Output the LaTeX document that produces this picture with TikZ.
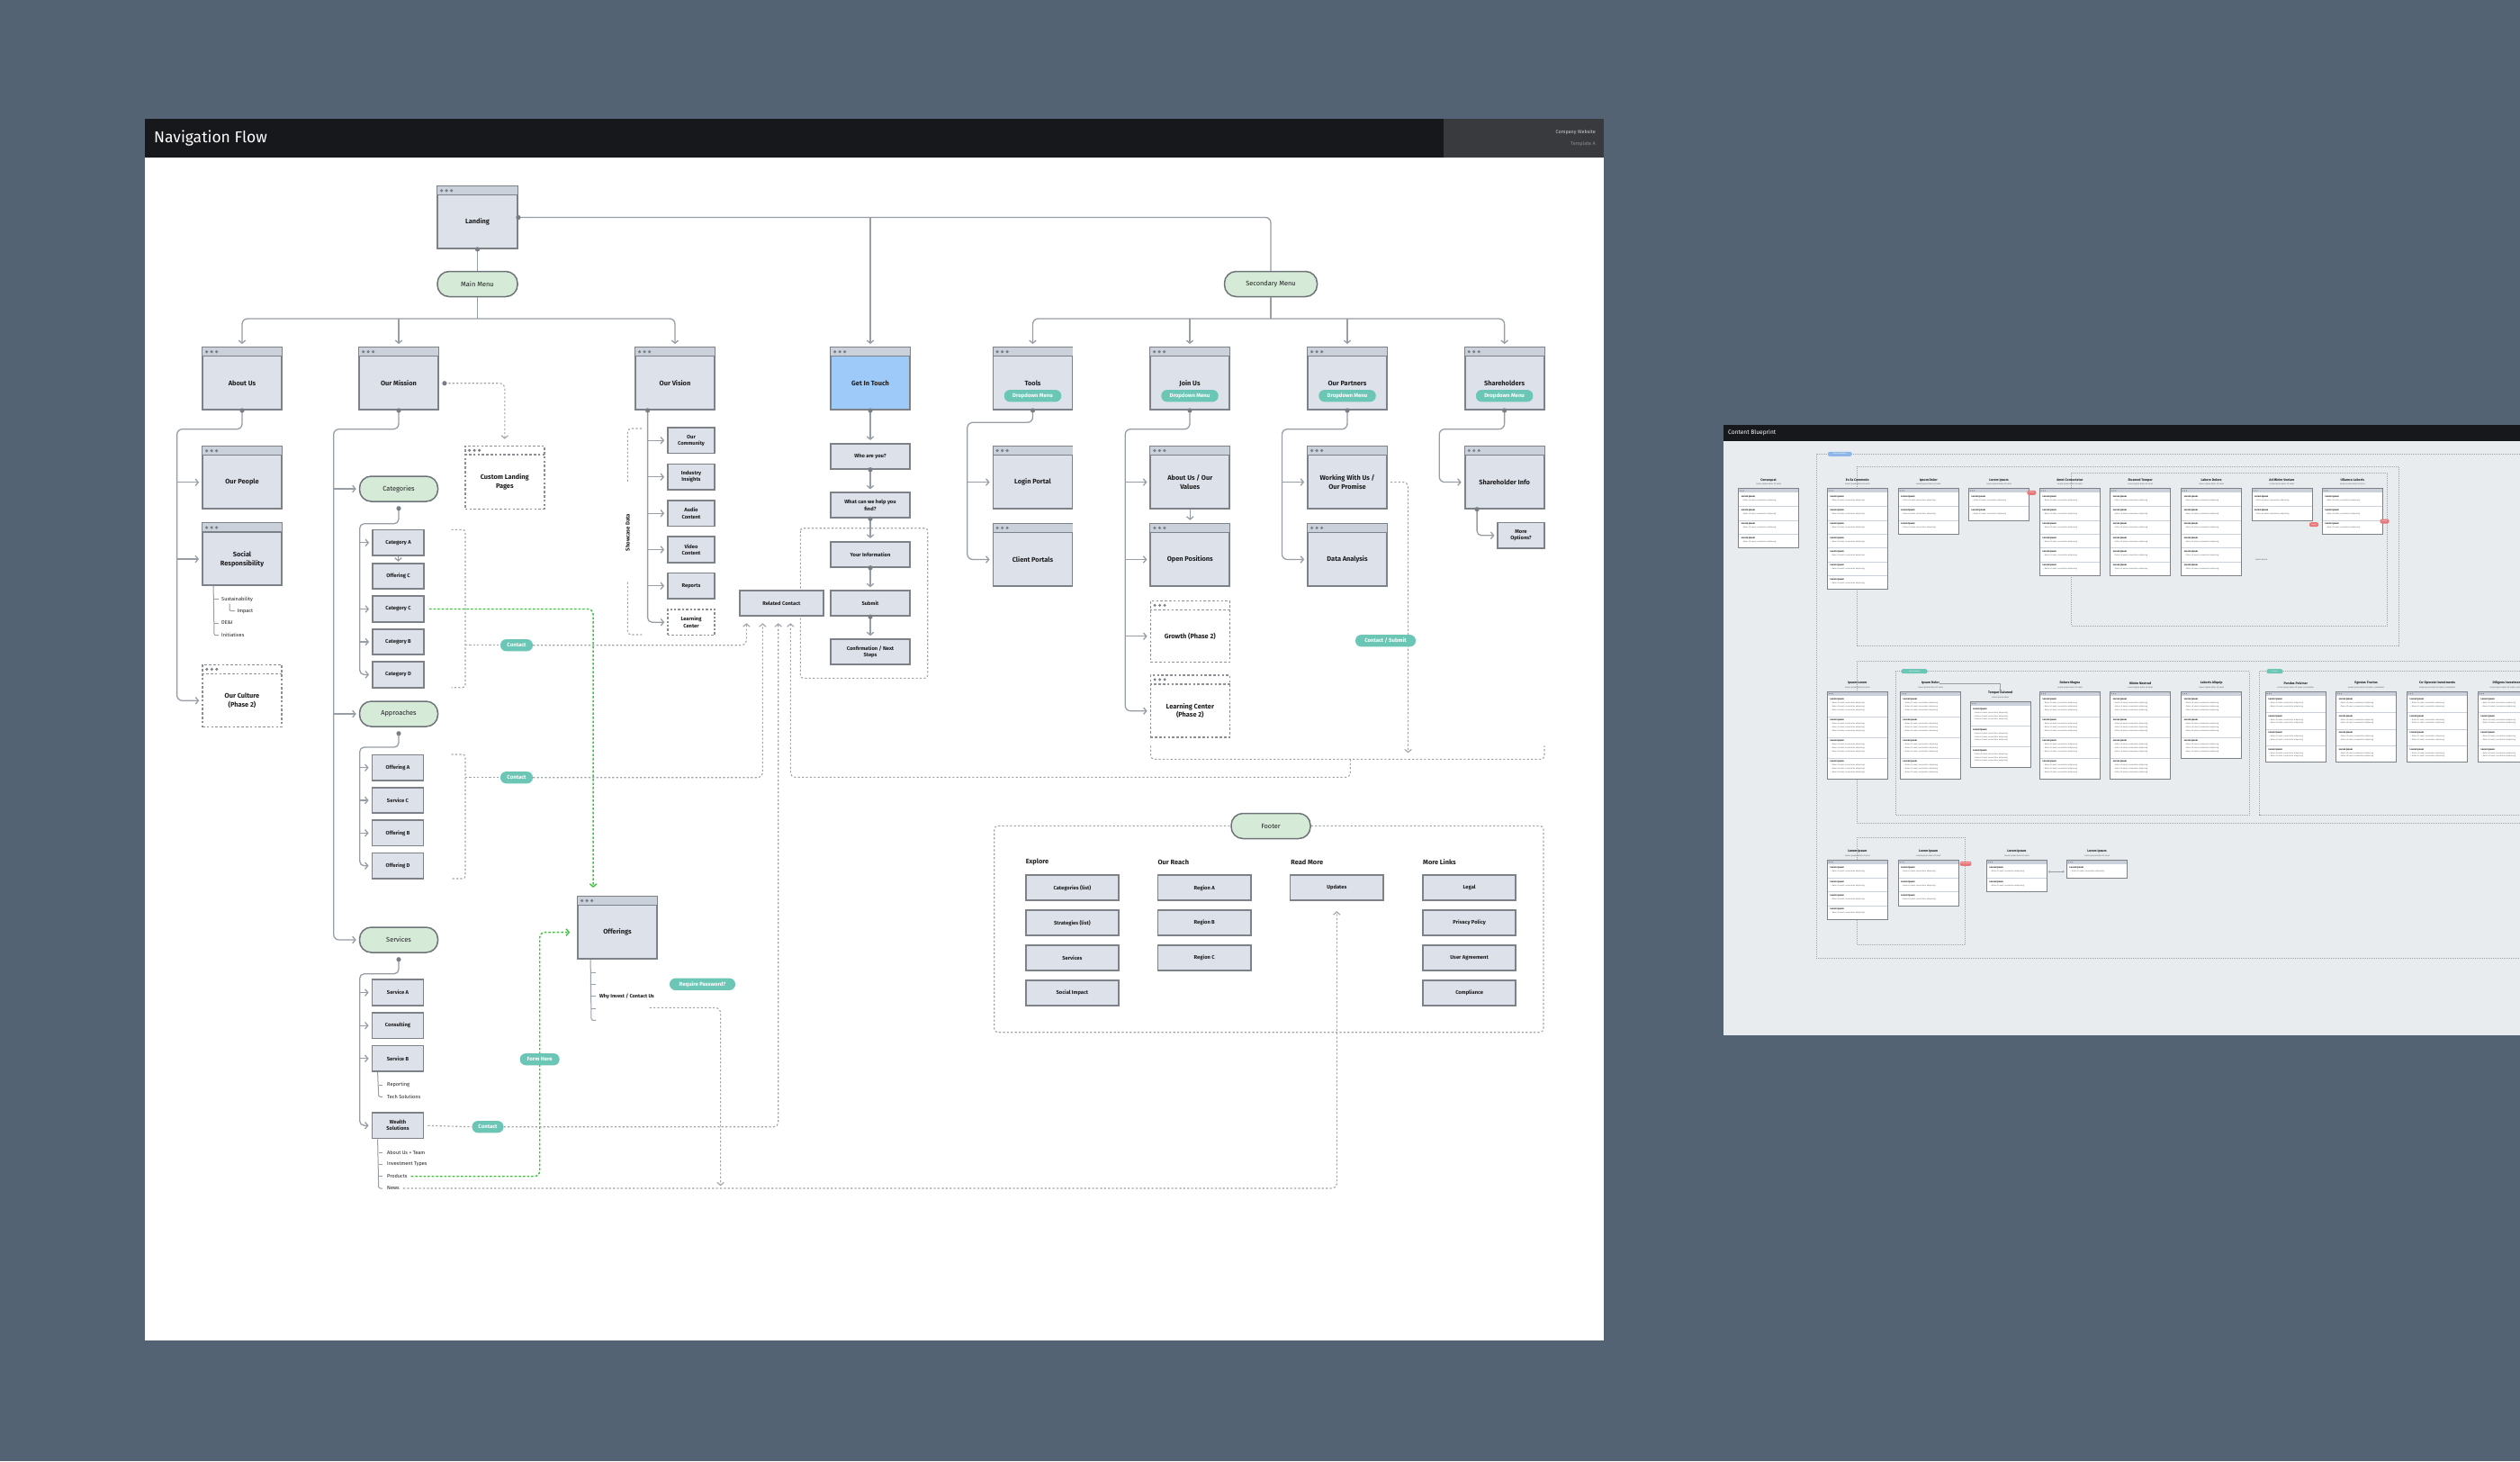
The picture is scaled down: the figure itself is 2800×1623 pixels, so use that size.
\documentclass[tikz,border=0pt]{standalone}
\usepackage{fontspec}
\setmainfont{Fira Sans}
\usetikzlibrary{arrows.meta}
\definecolor{bgc}{RGB}{83,99,115}
\definecolor{hdrc}{RGB}{23,24,27}
\definecolor{hdr2}{RGB}{57,58,62}
\definecolor{boxf}{RGB}{221,226,234}
\definecolor{barf}{RGB}{202,209,218}
\definecolor{boxc}{RGB}{125,130,136}
\definecolor{dboxc}{RGB}{140,144,150}
\definecolor{dotc}{RGB}{120,126,134}
\definecolor{pillf}{RGB}{213,235,215}
\definecolor{pillc}{RGB}{110,115,120}
\definecolor{bluef}{RGB}{157,202,248}
\definecolor{tealf}{RGB}{108,198,181}
\definecolor{connc}{RGB}{152,158,166}
\definecolor{dashc}{RGB}{160,164,170}
\definecolor{greenc}{RGB}{58,196,58}
\definecolor{txtc}{RGB}{30,30,32}
\definecolor{bpf}{RGB}{233,236,239}
\definecolor{redf}{RGB}{232,120,120}
\definecolor{bluep}{RGB}{140,182,232}
\definecolor{bptxt}{RGB}{80,84,90}
\tikzset{
  win/.style={draw=boxc, fill=boxf, line width=1.8pt, inner sep=0pt},
  dwin/.style={draw=dboxc, fill=white, line width=1.4pt, dash pattern=on 2.6pt off 2.2pt, inner sep=0pt},
  wlbl/.style={inner sep=0pt, align=center, text=txtc, font=\fontsize{7.4}{9.6}\selectfont\bfseries},
  sbox/.style={draw=boxc, fill=boxf, line width=1.8pt, inner sep=1pt, minimum width=57pt, minimum height=28.5pt, align=center, text=txtc, font=\fontsize{5.8}{7.2}\selectfont\bfseries},
  dsbox/.style={sbox, draw=dboxc, fill=white, line width=1.4pt, dash pattern=on 2.4pt off 2pt},
  gpill/.style={draw=pillc, fill=pillf, line width=1.5pt, rounded corners=13pt, minimum height=28pt, inner sep=1pt, text=txtc, font=\fontsize{7.4}{9}\selectfont},
  tpill/.style={fill=tealf, text=white, rounded corners=6.5pt, minimum height=13.3pt, inner sep=1.5pt, font=\fontsize{6}{7}\selectfont\bfseries},
  conn/.style={draw=connc, line width=1.3pt},
  thinconn/.style={draw=connc, line width=1pt},
  arrtip/.style={-{Straight Barb[length=3.2pt,width=7.5pt]}},
  arr/.style={conn, arrtip, shorten >=3pt},
  dsh/.style={draw=dashc, line width=1.1pt, dash pattern=on 2.2pt off 2.2pt},
  gdash/.style={draw=greenc, line width=1.4pt, dash pattern=on 2.6pt off 2pt},
  subt/.style={anchor=west, inner sep=0pt, text=txtc, font=\fontsize{5.6}{7}\selectfont},
  fhead/.style={anchor=west, inner sep=0pt, text=txtc, font=\fontsize{7.4}{9}\selectfont\bfseries},
  fbox/.style={sbox, minimum width=103.5pt, minimum height=28pt},
  bptitle/.style={inner sep=0pt, text=txtc, font=\fontsize{3.6}{4}\selectfont\bfseries},
  bpsub/.style={inner sep=0pt, text=bptxt, font=\fontsize{2.2}{2.6}\selectfont},
  bprh/.style={anchor=west, inner sep=0pt, text=txtc, font=\fontsize{2.6}{3}\selectfont\bfseries},
  bpb/.style={anchor=west, inner sep=0pt, text=bptxt, font=\fontsize{2.1}{2.5}\selectfont},
  bpedge/.style={draw=boxc, line width=0.6pt},
  bprow/.style={draw=barf, line width=0.5pt},
  bpdash/.style={draw=dashc, line width=0.5pt, dash pattern=on 1pt off 1pt},
  bptag/.style={inner sep=0.6pt, rounded corners=2pt, minimum height=5pt, text=white, font=\fontsize{2}{2.4}\selectfont}
}
\newcommand\jdot[1]{\fill[dotc] (#1) circle (2.6pt);}
\newcommand\winbox[7][]{%
  \node[win, minimum width=#5pt, minimum height=#6pt, #1] (#2) at (#3,#4) {};
  \fill[barf] ([shift={(0.9pt,-0.9pt)}]#2.north west) rectangle ([shift={(-0.9pt,-10.5pt)}]#2.north east);
  \draw[boxc, line width=1.2pt] ([yshift=-10.5pt]#2.north west) -- ([yshift=-10.5pt]#2.north east);
  \foreach \dx in {5.5,11,16.5}{\fill[dotc] ([shift={(\dx pt,-5.6pt)}]#2.north west) circle (1.7pt);}
  \coordinate (#2-w) at ([yshift=-5.25pt]#2.west);
  \coordinate (#2-e) at ([yshift=-5.25pt]#2.east);
  \node[wlbl] (#2-t) at ([yshift=-5.25pt]#2.center) {#7};
}
\newcommand\dwinbox[6]{%
  \node[dwin, minimum width=#4pt, minimum height=#5pt] (#1) at (#2,#3) {};
  \draw[dboxc, line width=1.4pt, dash pattern=on 2.6pt off 2.2pt] ([yshift=-10.5pt]#1.north west) -- ([yshift=-10.5pt]#1.north east);
  \foreach \dx in {5.5,11,16.5}{\fill[dotc] ([shift={(\dx pt,-5.6pt)}]#1.north west) circle (1.7pt);}
  \coordinate (#1-w) at ([yshift=-5.25pt]#1.west);
  \coordinate (#1-e) at ([yshift=-5.25pt]#1.east);
  \node[wlbl] (#1-t) at ([yshift=-5.25pt]#1.center) {#6};
}
% name, left x, top y, rows, row height, bullets, title, subtitle
\newcommand\bpcard[8]{%
  \node[bptitle] (#1-t) at ({#2+33.5},{#3-9.4}) {#7};
  \node[bpsub] (#1-s) at ({#2+33.5},{#3-4.4}) {#8};
  \fill[white] (#2,#3) rectangle ({#2+67},{#3+4.7+#4*#5});
  \fill[barf] (#2,#3) rectangle ({#2+67},{#3+4.7});
  \foreach \dx in {2,4,6}{\fill[dotc] ({#2+\dx},{#3+2.35}) circle (0.6pt);}
  \foreach \rr in {1,...,#4}{%
    \pgfmathsetmacro\ry{#3+4.7+(\rr-1)*#5}
    \draw[bprow] (#2,{\ry+#5}) -- ({#2+67},{\ry+#5});
    \node[bprh] (#1-h\rr) at ({#2+3},{\ry+4.2}) {Lorem Ipsum};
    \foreach \bb in {1,...,#6}{\node[bpb] (#1-b\rr-\bb) at ({#2+4},{\ry+4.6+\bb*3.6}) {• Dolor sit amet, consectetur adipiscing};}
  }
  \draw[bpedge] (#2,#3) rectangle ({#2+67},{#3+4.7+#4*#5});
}
\begin{document}
\begin{tikzpicture}[x=1pt,y=-1pt]
\fill[bgc] (0,0) rectangle (2800,1623);
\useasboundingbox (0,0) rectangle (2800,1623);
% ---------- main panel ----------
\fill[white] (161,132) rectangle (1782,1489);
\fill[hdrc] (161,132) rectangle (1782,175);
\fill[hdr2] (1604,132) rectangle (1782,175);
\node[anchor=west, inner sep=0pt, text=white, font=\fontsize{17.5}{20}\selectfont] (title) at (171,153.5) {Navigation Flow};
\node[anchor=east, inner sep=0pt, text=black!20, font=\fontsize{5.5}{6.5}\selectfont] (cw) at (1773,147) {Company Website};
\node[anchor=east, inner sep=0pt, text=black!45, font=\fontsize{5.5}{6.5}\selectfont] (ta) at (1773,160.5) {Template A};

% ---------- background dashed groupings ----------
\draw[dsh, rounded corners=3pt] (889.3,586.7) rectangle (1030.7,753.3);
\draw[dsh, rounded corners=3pt] (501.5,588.3) -- (517,588.3) -- (517,763.7) -- (501.5,763.7);
\draw[dsh, rounded corners=3pt] (501.5,838) -- (517,838) -- (517,976) -- (501.5,976);
\draw[dsh, rounded corners=4pt] (1278.6,828.3) -- (1278.6,843.3) -- (1716,843.3) -- (1716,828.3);
\draw[dsh, rounded corners=4pt] (1104.7,917.3) rectangle (1715,1146.7);
\draw[dsh, rounded corners=4pt] (713,476) -- (697.3,476) -- (697.3,535);
\draw[dsh, rounded corners=4pt] (697.3,646.7) -- (697.3,705) -- (713,705);
\node[rotate=90, inner sep=0pt, text=txtc, font=\fontsize{6}{7}\selectfont\bfseries] (showcase) at (697.3,591.7) {Showcase Data};

% ---------- window boxes ----------
\winbox{landing}{530.5}{241.5}{89}{69}{Landing}
\winbox{aboutus}{269}{420.5}{88}{69}{About Us}
\winbox{mission}{443}{420.5}{88}{69}{Our Mission}
\winbox{vision}{750}{420.5}{88}{69}{Our Vision}
\winbox[fill=bluef]{touch}{967}{420.5}{88}{69}{Get In Touch}
\winbox{tools}{1147.5}{420.5}{88}{69}{Tools}
\winbox{joinus}{1322}{420.5}{88}{69}{Join Us}
\winbox{partners}{1497}{420.5}{88}{69}{Our Partners}
\winbox{sharehold}{1671.6}{420.5}{88}{69}{Shareholders}
\winbox{people}{269}{530.5}{88}{69}{Our People}
\winbox{social}{269}{615.8}{88}{69}{Social\\Responsibility}
\dwinbox{culture}{269}{773}{88}{69}{Our Culture\\(Phase 2)}
\dwinbox{custom}{560.8}{530.3}{88}{70}{Custom Landing\\Pages}
\winbox{login}{1147.5}{530.3}{88}{69}{Login Portal}
\winbox{client}{1147.5}{616.2}{88}{69}{Client Portals}
\winbox{values}{1322.3}{530.3}{88}{69}{About Us / Our\\Values}
\winbox{openpos}{1322.3}{616.2}{88}{69}{Open Positions}
\dwinbox{growth}{1322.3}{701.5}{88}{68}{Growth (Phase 2)}
\dwinbox{learntwo}{1322.3}{784.5}{88}{69}{Learning Center\\(Phase 2)}
\winbox{working}{1497}{530.3}{88}{69}{Working With Us /\\Our Promise}
\winbox{data}{1497}{616.2}{88}{69}{Data Analysis}
\winbox{shinfo}{1671.6}{530.3}{88}{69}{Shareholder Info}
\winbox{offerings}{686}{1030.3}{88}{69}{Offerings}

\node[tpill, minimum width=63.5pt] (dd1) at (1147.5,439.7) {Dropdown Menu};
\node[tpill, minimum width=63.5pt] (dd2) at (1322,439.7) {Dropdown Menu};
\node[tpill, minimum width=63.5pt] (dd3) at (1497,439.7) {Dropdown Menu};
\node[tpill, minimum width=63.5pt] (dd4) at (1671.6,439.7) {Dropdown Menu};

% ---------- green pills ----------
\node[gpill, minimum width=89pt] (mainmenu) at (530.5,315.5) {Main Menu};
\node[gpill, minimum width=103pt] (secmenu) at (1412,315.5) {Secondary Menu};
\node[gpill, minimum width=87pt] (categories) at (443,543) {Categories};
\node[gpill, minimum width=87pt] (approaches) at (443,793) {Approaches};
\node[gpill, minimum width=87pt] (services) at (443,1044) {Services};

% ---------- small boxes ----------
\node[sbox] (cata) at (442.5,602.8) {Category A};
\node[sbox] (offc) at (442.5,639.9) {Offering C};
\node[sbox] (catc) at (442.5,676.5) {Category C};
\node[sbox] (catb) at (442.5,713) {Category B};
\node[sbox] (catd) at (442.5,749.4) {Category D};
\node[sbox] (offa) at (442,852.7) {Offering A};
\node[sbox] (servc) at (442,889) {Service C};
\node[sbox] (offb) at (442,925.3) {Offering B};
\node[sbox] (offd) at (442,961.7) {Offering D};
\node[sbox] (serva) at (442,1102.5) {Service A};
\node[sbox] (consult) at (442,1139.2) {Consulting};
\node[sbox] (servb) at (442,1175.8) {Service B};
\node[sbox] (wealth) at (442,1250.2) {Wealth\\Solutions};

\node[sbox, minimum width=52pt] (community) at (768,489.2) {Our\\Community};
\node[sbox, minimum width=52pt] (insights) at (768,529.8) {Industry\\Insights};
\node[sbox, minimum width=52pt] (audio) at (768,570.2) {Audio\\Content};
\node[sbox, minimum width=52pt] (video) at (768,610.5) {Video\\Content};
\node[sbox, minimum width=52pt] (reports) at (768,650.8) {Reports};
\node[dsbox, minimum width=52pt] (learn) at (768,691.2) {Learning\\Center};

\node[sbox, minimum width=88pt, minimum height=28pt] (who) at (967,506.8) {Who are you?};
\node[sbox, minimum width=88pt, minimum height=28pt] (what) at (967,561.3) {What can we help you\\find?};
\node[sbox, minimum width=88pt, minimum height=28pt] (yourinfo) at (967,615.8) {Your Information};
\node[sbox, minimum width=88pt, minimum height=28pt] (submit) at (967,670.2) {Submit};
\node[sbox, minimum width=88pt, minimum height=28pt] (confirm) at (967,724.2) {Confirmation / Next\\Steps};
\node[sbox, minimum width=93.3pt, minimum height=28.3pt] (related) at (868.3,670.2) {Related Contact};
\node[sbox, minimum width=51.3pt] (moreopts) at (1690,594.8) {More\\Options?};

% ---------- footer ----------
\node[gpill, minimum width=88pt] (footer) at (1412,917.5) {Footer};
\node[fhead] (fh1) at (1139.6,957.3) {Explore};
\node[fhead] (fh2) at (1286.4,957.3) {Our Reach};
\node[fhead] (fh3) at (1434.2,957.3) {Read More};
\node[fhead] (fh4) at (1581,957.3) {More Links};
\node[fbox] (f11) at (1191.4,986.3) {Categories (list)};
\node[fbox] (f12) at (1191.4,1025.2) {Strategies (list)};
\node[fbox] (f13) at (1191.4,1064.2) {Services};
\node[fbox] (f14) at (1191.4,1103.2) {Social Impact};
\node[fbox] (f21) at (1338.2,986.3) {Region A};
\node[fbox] (f22) at (1338.2,1025.2) {Region B};
\node[fbox] (f23) at (1338.2,1064.2) {Region C};
\node[fbox] (updates) at (1485.3,986.3) {Updates};
\node[fbox] (f41) at (1632.6,986.3) {Legal};
\node[fbox] (f42) at (1632.6,1025.2) {Privacy Policy};
\node[fbox] (f43) at (1632.6,1064.2) {User Agreement};
\node[fbox] (f44) at (1632.6,1103.2) {Compliance};

% ---------- sub lists ----------
\draw[thinconn, rounded corners=2pt] ([xshift=13pt]social.south west) -- (238,705.7) -- (243,705.7);
\draw[thinconn] (238,665.7) -- (243,665.7);
\draw[thinconn] (238,692) -- (243,692);
\draw[thinconn, rounded corners=2pt] (255,670.5) |- (261,678.7);
\node[subt] (srs) at (246,665.7) {Sustainability};
\node[subt] (sri) at (263.5,678.7) {Impact};
\node[subt] (srd) at (246,692) {DE\&I};
\node[subt] (srn) at (246,705.7) {Initiatives};

\draw[thinconn, rounded corners=2pt] ([xshift=7pt]servb.south west) -- (420.7,1218.3) -- (425,1218.3);
\draw[thinconn] (420.7,1205) -- (425,1205);
\node[subt] (sbr) at (430,1205) {Reporting};
\node[subt] (sbt) at (430,1218.3) {Tech Solutions};

\draw[thinconn, rounded corners=2pt] ([xshift=7pt]wealth.south west) -- (420.7,1320) -- (425,1320);
\foreach \yy in {1280,1293.3,1306.7}{\draw[thinconn] (420.7,\yy) -- (425,\yy);}
\node[subt] (wsa) at (430,1280) {About Us + Team};
\node[subt] (wsi) at (430,1293.3) {Investment Types};
\node[subt] (wsprod) at (430,1306.7) {Products};
\node[subt] (wsnews) at (430,1320) {News};

\draw[thinconn, rounded corners=2pt] ([xshift=15pt]offerings.south west) -- (657,1133.3) -- (662,1133.3);
\foreach \yy in {1080,1093.3,1106.7,1120}{\draw[thinconn] (657,\yy) -- (662,\yy);}
\node[subt, font=\fontsize{5.6}{7}\selectfont\bfseries] (whyinv) at (666,1106.7) {Why Invest / Contact Us};

% ---------- connectors: top ----------
\draw[conn] (landing.south) -- (mainmenu.north);
\jdot{landing.south}
\coordinate (mmj) at (530.5,354);
\draw[conn] (mainmenu.south) -- (mmj);
\draw[arr, rounded corners=6pt] (mmj) -| (aboutus.north);
\draw[arr, rounded corners=6pt] (mmj) -| (vision.north);
\draw[arr] (mission.north |- mmj) -- (mission.north);

\draw[conn, rounded corners=6pt] (landing.east) -| (secmenu.north);
\jdot{landing.east}
\draw[arr] (touch.north |- landing.east) -- (touch.north);

\coordinate (smj) at (1412,354);
\draw[conn] (secmenu.south) -- (smj);
\draw[arr, rounded corners=6pt] (smj) -| (tools.north);
\draw[arr, rounded corners=6pt] (smj) -| (sharehold.north);
\draw[arr] (joinus.north |- smj) -- (joinus.north);
\draw[arr] (partners.north |- smj) -- (partners.north);

% about us
\coordinate (auj) at (196.6,476.7);
\draw[arr, rounded corners=6pt] (aboutus.south) |- (auj) |- (culture-w);
\draw[arr] (auj |- people-w) -- (people-w);
\draw[arr] (auj |- social-w) -- (social-w);
\jdot{aboutus.south}

% mission
\coordinate (mij) at (370.7,476.7);
\draw[arr, rounded corners=6pt] (mission.south) |- (mij) |- (services.west);
\draw[arr] (mij |- categories.west) -- (categories.west);
\draw[arr] (mij |- approaches.west) -- (approaches.west);
\jdot{mission.south}
\draw[dsh, arrtip, rounded corners=5pt, shorten >=7pt] ([xshift=6pt]mission-e) -| (custom.north);
\jdot{[xshift=6pt]mission-e}

% categories
\coordinate (caj) at (399.7,581.7);
\draw[arr, rounded corners=5pt] ([yshift=-7pt]categories.south) |- (caj) |- (catd.west);
\draw[arr] (caj |- cata.west) -- (cata.west);
\draw[arr] (caj |- catc.west) -- (catc.west);
\draw[arr] (caj |- catb.west) -- (catb.west);
\jdot{[yshift=-7pt]categories.south}
\draw[arr, shorten >=1pt] (cata.south) -- (offc.north);

% approaches
\coordinate (apj) at (399.7,830);
\draw[arr, rounded corners=5pt] ([yshift=-7pt]approaches.south) |- (apj) |- (offd.west);
\draw[arr] (apj |- offa.west) -- (offa.west);
\draw[arr] (apj |- servc.west) -- (servc.west);
\draw[arr] (apj |- offb.west) -- (offb.west);
\jdot{[yshift=-7pt]approaches.south}

% services
\coordinate (svj) at (399.7,1081.7);
\draw[arr, rounded corners=5pt] ([yshift=-7pt]services.south) |- (svj) |- (wealth.west);
\draw[arr] (svj |- serva.west) -- (serva.west);
\draw[arr] (svj |- consult.west) -- (consult.west);
\draw[arr] (svj |- servb.west) -- (servb.west);
\jdot{[yshift=-7pt]services.south}

% vision
\coordinate (vsj) at ([xshift=14.5pt]vision.south west);
\draw[arr, rounded corners=5pt] (vsj) |- (learn.west);
\draw[arr] (vsj |- community.west) -- (community.west);
\draw[arr] (vsj |- insights.west) -- (insights.west);
\draw[arr] (vsj |- audio.west) -- (audio.west);
\draw[arr] (vsj |- video.west) -- (video.west);
\draw[arr] (vsj |- reports.west) -- (reports.west);
\jdot{vsj}

% get in touch chain
\draw[arr] (touch.south) -- (who.north);
\draw[arr] (who.south) -- (what.north);
\draw[arr] (what.south) -- (yourinfo.north);
\draw[arr] (yourinfo.south) -- (submit.north);
\draw[arr] (submit.south) -- (confirm.north);
\jdot{touch.south}\jdot{who.south}\jdot{what.south}\jdot{yourinfo.south}\jdot{submit.south}

% tools / join / partners / shareholders
\coordinate (toj) at (1074.8,469.3);
\draw[arr, rounded corners=6pt] (tools.south) |- (toj) |- (client-w);
\draw[arr] (toj |- login-w) -- (login-w);
\jdot{tools.south}
\coordinate (jnj) at (1250.2,476.7);
\draw[arr, rounded corners=6pt] (joinus.south) |- (jnj) |- (learntwo-w);
\draw[arr] (jnj |- values-w) -- (values-w);
\draw[arr] (jnj |- openpos-w) -- (openpos-w);
\draw[arr] (jnj |- growth-w) -- (growth-w);
\draw[arr] (values.south) -- (openpos.north);
\jdot{joinus.south}
\coordinate (paj) at (1424.4,476.7);
\draw[arr, rounded corners=6pt] (partners.south) |- (paj) |- (data-w);
\draw[arr] (paj |- working-w) -- (working-w);
\jdot{partners.south}
\coordinate (shj) at (1599.2,476.7);
\draw[arr, rounded corners=6pt] (sharehold.south) |- (shj) |- (shinfo-w);
\jdot{sharehold.south}
\coordinate (sis) at ([xshift=14.4pt]shinfo.south west);
\draw[arr, rounded corners=5pt] (sis) |- (moreopts.west);
\jdot{sis}

% ---------- dashed contact connectors ----------
\coordinate (cbr) at (517,716.7);
\coordinate (abr) at (517,863.7);
\draw[dsh] (cbr) -- ++(39,0);
\draw[dsh] (abr) -- ++(39,0);
\node[tpill, minimum width=36pt] (contact1) at (574,716.7) {Contact};
\node[tpill, minimum width=36pt] (contact2) at (574,863.7) {Contact};
\draw[dsh, arrtip, rounded corners=5pt, shorten >=7pt] (contact1.east) -| ([xshift=8.6pt]related.south west);
\draw[dsh, arrtip, rounded corners=5pt, shorten >=7pt] (contact2.east) -| ([xshift=26.6pt]related.south west);
\node[tpill, minimum width=35pt] (contact3) at (542,1251.7) {Contact};
\draw[dsh, shorten <=4pt] (wealth.east) -- (contact3.west);
\draw[dsh, arrtip, rounded corners=5pt, shorten >=7pt] (contact3.east) -| ([xshift=44pt]related.south west);
\coordinate (jgb) at (1500.4,843.3);
\draw[dsh, arrtip, rounded corners=5pt, shorten >=7pt] (jgb) -- (1500.4,863.3) -| ([xshift=57.6pt]related.south west);
\draw[dsh, arrtip, rounded corners=5pt, shorten <=3pt, shorten >=7pt] (working-e) -| (1564.5,843.3);
\node[tpill, minimum width=67pt] (contactsubmit) at (1539.5,711.7) {Contact / Submit};

% green links
\draw[gdash, arrtip, rounded corners=6pt, shorten <=5pt, shorten >=9pt] (catc.east) -| ([xshift=18pt]offerings.north west);
\draw[gdash, arrtip, rounded corners=6pt, shorten <=4pt, shorten >=8pt] (wsprod.east) -| (599.7,1035.55) -- (offerings-w);
\node[tpill, minimum width=44pt] (formhere) at (599.7,1176.7) {Form Here};

% require password + news
\node[tpill, minimum width=73pt] (reqpw) at (780.5,1093.3) {Require Password?};
\coordinate (rpd) at (721.6,1119.3);
\draw[dsh, arrtip, rounded corners=5pt, shorten >=2pt] (rpd) -| (800.6,1319.3);
\draw[dsh, arrtip, rounded corners=5pt, shorten <=4pt, shorten >=11pt] (wsnews.east) -| (updates.south);

% ---------- Content Blueprint panel ----------
\begin{scope}
\clip (1914.5,472) rectangle (2800,1150);
\fill[bpf] (1914.5,472) rectangle (2800,1150);
\fill[hdrc] (1914.5,472) rectangle (2800,490);
\node[anchor=west, inner sep=0pt, text=white, font=\fontsize{6.6}{8}\selectfont] (bptitle) at (1920,481) {Content Blueprint};
\draw[bpdash] (2830,504.3) -- (2017.8,504.3) -- (2017.8,1064) -- (2830,1064);
\draw[bpdash] (2063,518.3) rectangle (2664.8,717.3);
\draw[bpdash] (2301.6,525.3) rectangle (2652.3,695.3);
\draw[bpdash] (2830,734.3) -- (2063.2,734.3) -- (2063.2,914) -- (2830,914);
\draw[bpdash] (2105.8,745.7) rectangle (2499,905);
\draw[bpdash] (2830,745.7) -- (2510.5,745.7) -- (2510.5,905) -- (2830,905);
\draw[bpdash] (2063.2,930) rectangle (2183.5,1049.3);
\node[bptag, fill=bluep, minimum width=26.6pt] (bpnav) at (2044.3,504.3) {Main Navigation};
\node[bptag, fill=tealf, minimum width=29pt] (bpg1) at (2127,745.7) {Lorem Ipsum};
\node[bptag, fill=tealf, minimum width=18pt] (bpg2) at (2527.5,745.7) {Lorem};
\bpcard{bpa}{1931.6}{542.7}{4}{15.3}{1}{Consequat}{Lorem ipsum dolor sit amet}
\bpcard{bpb}{2030.3}{542.7}{7}{15.3}{1}{Ex Ea Commodo}{Lorem ipsum dolor sit amet}
\bpcard{bpc}{2109.2}{542.7}{3}{15.3}{1}{Ipsum Dolor}{Lorem ipsum dolor sit amet}
\bpcard{bpd}{2187.5}{542.7}{2}{15.3}{1}{Lorem Ipsum}{Lorem ipsum dolor sit amet}
\bpcard{bpe}{2266.4}{542.7}{6}{15.3}{1}{Amet Consectetur}{Lorem ipsum dolor sit amet}
\bpcard{bpf}{2344.7}{542.7}{6}{15.3}{1}{Eiusmod Tempor}{Lorem ipsum dolor sit amet}
\bpcard{bpg}{2423.6}{542.7}{6}{15.3}{1}{Labore Dolore}{Lorem ipsum dolor sit amet}
\bpcard{bph}{2501.9}{542.7}{2}{15.3}{1}{Ad Minim Veniam}{Lorem ipsum dolor sit amet}
\bpcard{bpi}{2580.3}{542.7}{3}{15.3}{1}{Ullamco Laboris}{Lorem ipsum dolor sit amet}
\node[bptag, fill=redf, minimum width=10pt] (bpr1) at (2257.3,547.3) {Lorem};
\node[bptag, fill=redf, minimum width=10pt] (bpr2) at (2571,582.7) {Lorem};
\node[bptag, fill=redf, minimum width=10pt] (bpr3) at (2649.5,579) {Lorem};
\node[bpsub] (bpnote) at (2512.7,622.3) {Lorem ipsum};
\bpcard{bpj}{2030.3}{768.3}{4}{23}{3}{Ipsum Lorem}{Lorem ipsum dolor sit amet}
\bpcard{bpk}{2111.5}{768.3}{4}{23}{3}{Ipsum Dolor}{Lorem ipsum dolor sit amet}
\bpcard{bpl}{2189.2}{779}{3}{23}{3}{Tempor Euismod}{Lorem ipsum dolor}
\bpcard{bpm}{2266.4}{768.3}{4}{23}{3}{Dolore Magna}{Lorem ipsum dolor sit amet}
\bpcard{bpn}{2344.7}{768.3}{4}{23}{3}{Minim Nostrud}{Lorem ipsum dolor sit amet}
\bpcard{bpo}{2423.6}{768.3}{3}{23}{3}{Laboris Aliquip}{Lorem ipsum dolor sit amet}
\bpcard{bpp}{2517.3}{768.3}{4}{18.4}{2}{Pundus Pulvinar}{Lorem ipsum dolor sit amet, consectetur}
\bpcard{bpq}{2595.6}{768.3}{4}{18.4}{2}{Egestas Tractus}{Lorem ipsum dolor sit amet, consectetur}
\bpcard{bpr}{2674.5}{768.3}{4}{18.4}{2}{Co-Operate Investments}{Lorem ipsum dolor sit amet, consectetur}
\bpcard{bps}{2753.3}{768.3}{4}{18.4}{2}{Diligens Investments}{Lorem ipsum dolor sit amet, consectetur}
\draw[connc, line width=0.5pt, -{Straight Barb[length=1.2pt,width=2.5pt]}] (bpk-t.east) -| (bpl-t.north);
\bpcard{bpt}{2030.3}{955.3}{4}{15.3}{1}{Lorem Ipsum}{Lorem ipsum dolor sit amet}
\bpcard{bpu}{2109.2}{955.3}{3}{15.3}{1}{Lorem Ipsum}{Lorem ipsum dolor sit amet}
\bpcard{bpv}{2207.4}{955.3}{2}{15.3}{1}{Lorem Ipsum}{Lorem ipsum dolor sit amet}
\bpcard{bpw}{2296.5}{955.3}{1}{15.3}{1}{Lorem Ipsum}{Lorem ipsum dolor sit amet}
\node[bptag, fill=redf, minimum width=12pt] (bpr4) at (2184,959.3) {Lorem ipsum};
\draw[connc, line width=0.5pt, {Straight Barb[length=1.2pt,width=2.5pt]}-{Straight Barb[length=1.2pt,width=2.5pt]}] (2276,968.3) -- (2293.6,968.3);
\end{scope}
\end{tikzpicture}
\end{document}
